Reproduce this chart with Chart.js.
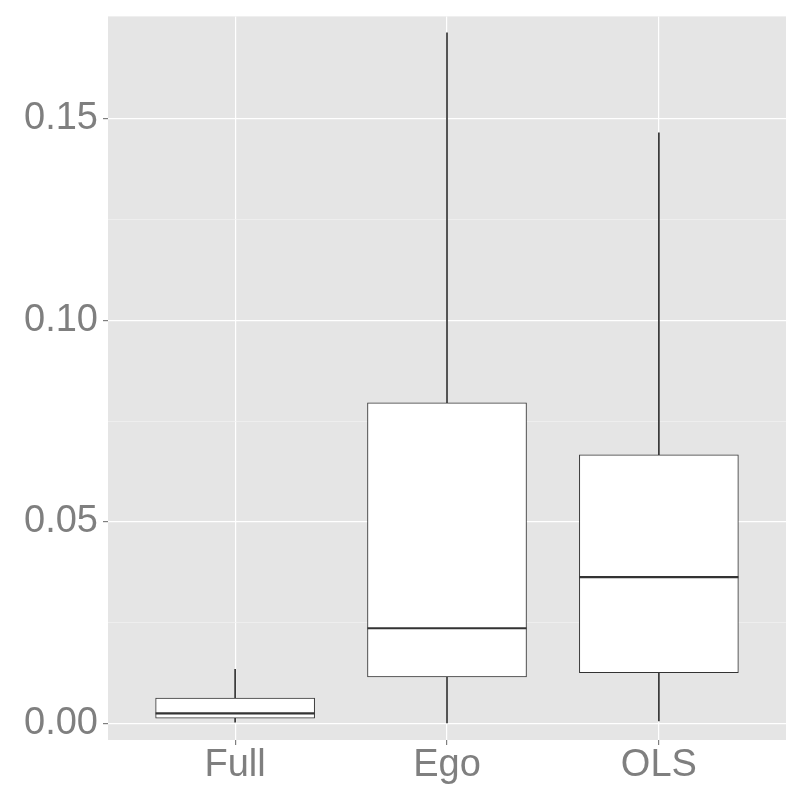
<!DOCTYPE html>
<html>
<head>
<meta charset="utf-8">
<script src="https://cdn.jsdelivr.net/npm/chart.js@4.4.0/dist/chart.umd.min.js"></script>
<style>
  html, body { margin: 0; padding: 0; background: #ffffff; }
  #wrap { width: 800px; height: 800px; }
</style>
</head>
<body>
<div id="wrap"><canvas id="c" width="800" height="800"></canvas></div>
<script>
// ---- data ----
const categories  = ['Full', 'Ego', 'OLS'];
const whiskerLow  = [0.0003, 0.0001, 0.0006];
const q1          = [0.0013, 0.0115, 0.0126];
const median      = [0.0025, 0.0236, 0.0363];
const q3          = [0.0063, 0.0795, 0.0666];
const whiskerHigh = [0.0134, 0.1713, 0.1465];
const yMajorTicks = [0, 0.05, 0.10, 0.15];
const yMinorTicks = [0.025, 0.075, 0.125];
const yLabels     = ['0.00', '0.05', '0.10', '0.15'];

const xPos = categories.map((_, i) => i + 1);

const bgPlugin = {
  id: 'panelBg',
  beforeDraw(chart) {
    const { ctx, chartArea: a } = chart;
    ctx.save();
    ctx.fillStyle = '#e5e5e5';
    ctx.fillRect(a.left, a.top, a.right - a.left, a.bottom - a.top);
    ctx.restore();
  }
};

const allYTicks = yMajorTicks.concat(yMinorTicks).sort((a, b) => a - b);
const isMajor = v => yMajorTicks.some(m => Math.abs(m - v) < 1e-9);

new Chart(document.getElementById('c'), {
  type: 'bar',
  data: {
    datasets: [
      {
        type: 'scatter',
        label: 'median',
        order: 0,
        data: xPos.map((x, i) => ({ x: x, y: median[i] })),
        pointStyle: 'line',
        pointRadius: 79.5,
        pointHoverRadius: 79.5,
        borderColor: '#333333',
        borderWidth: 2.2,
        backgroundColor: '#333333'
      },
      {
        label: 'box',
        order: 1,
        grouped: false,
        data: xPos.map((x, i) => ({ x: x, y: [q1[i], q3[i]] })),
        backgroundColor: '#ffffff',
        borderColor: '#333333',
        borderWidth: 1,
        borderSkipped: false,
        barThickness: 159
      },
      {
        label: 'whisker',
        order: 2,
        grouped: false,
        data: xPos.map((x, i) => ({ x: x, y: [whiskerLow[i], whiskerHigh[i]] })),
        backgroundColor: '#333333',
        borderWidth: 0,
        barThickness: 1
      }
    ]
  },
  options: {
    responsive: false,
    animation: false,
    events: [],
    layout: { autoPadding: false, padding: { top: 14, right: 14, left: 0, bottom: 0 } },
    plugins: { legend: { display: false }, tooltip: { enabled: false } },
    scales: {
      x: {
        type: 'linear',
        min: 0.4,
        max: 3.6,
        offset: false,
        afterBuildTicks(scale) { scale.ticks = xPos.map(v => ({ value: v })); },
        afterFit(scale) { scale.height = 60; },
        border: { display: false },
        grid: {
          offset: false,
          color: '#ffffff',
          lineWidth: 1.2,
          tickColor: '#7f7f7f',
          tickLength: 5,
          drawTicks: true
        },
        ticks: {
          color: '#7f7f7f',
          font: { family: '"Liberation Sans", Arial, sans-serif', size: 38 },
          padding: -2,
          maxRotation: 0,
          autoSkip: false,
          callback: (v) => categories[Math.round(v) - 1] || ''
        }
      },
      y: {
        type: 'linear',
        min: -0.00413,
        max: 0.1754,
        afterBuildTicks(scale) { scale.ticks = allYTicks.map(v => ({ value: v })); },
        afterFit(scale) { scale.width = 108; },
        border: { display: false },
        grid: {
          color: (c) => isMajor(c.tick.value) ? '#ffffff' : '#f2f2f2',
          lineWidth: (c) => isMajor(c.tick.value) ? 1.2 : 0.7,
          tickColor: (c) => isMajor(c.tick.value) ? '#7f7f7f' : 'rgba(0,0,0,0)',
          tickLength: 5,
          drawTicks: true
        },
        ticks: {
          color: '#7f7f7f',
          font: { family: '"Liberation Sans", Arial, sans-serif', size: 38, lineHeight: 0.6 },
          padding: 5,
          autoSkip: false,
          callback: (v) => {
            const k = yMajorTicks.findIndex(m => Math.abs(m - v) < 1e-9);
            return k >= 0 ? yLabels[k] : '';
          }
        }
      }
    }
  },
  plugins: [bgPlugin]
});
</script>
</body>
</html>
